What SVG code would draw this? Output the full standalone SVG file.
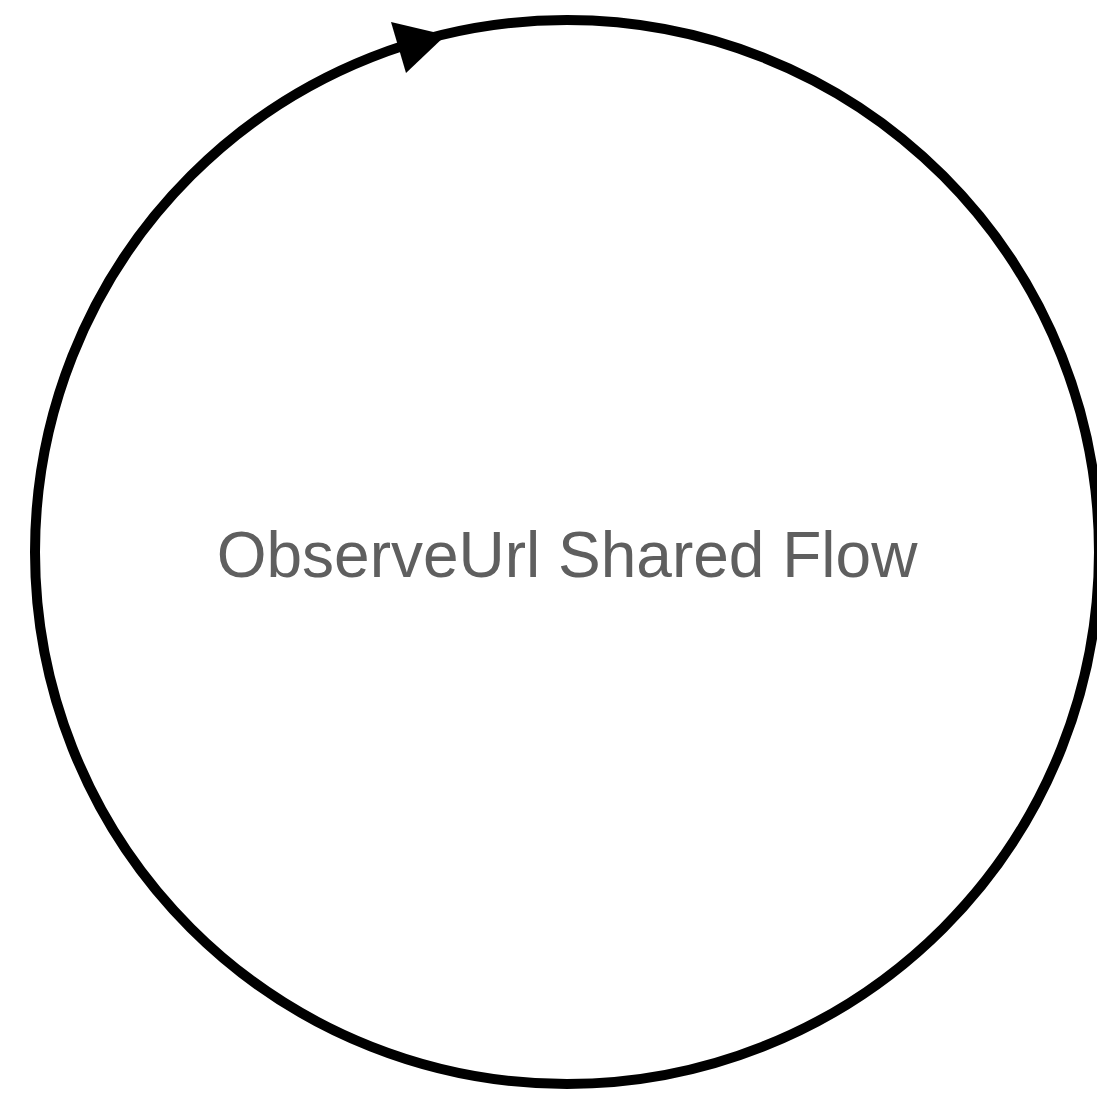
<svg xmlns="http://www.w3.org/2000/svg" width="1097" height="1093" viewBox="0 0 1097 1093">
<style>
.loop{fill:none;stroke:#000;stroke-width:10}
.label{font-family:"Liberation Sans",Arial,sans-serif;font-size:64px;fill:#5f5f5f;text-anchor:middle}
</style>
<rect width="1097" height="1093" fill="#fff"/>
<g id="connectors">
<circle class="loop" cx="567" cy="552" r="532"/>
<polygon points="391,22 406,73 446,35" fill="#000"/>
</g>
<g id="node-observeurl">
<text class="label" x="567" y="577">ObserveUrl Shared Flow</text>
</g>
</svg>
